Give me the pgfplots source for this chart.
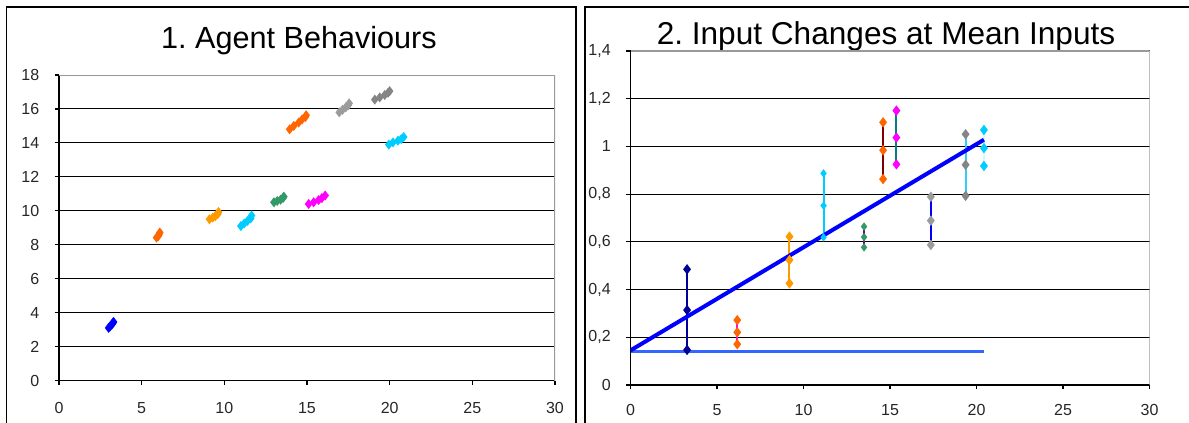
\documentclass[border=0pt]{standalone}
\usepackage{pgfplots}
\pgfplotsset{compat=1.18}
\usepackage{fontspec}
\setmainfont{Liberation Sans}
\frenchspacing
\definecolor{cblue}{HTML}{0000FF}
\definecolor{corange}{HTML}{FF6600}
\definecolor{clorange}{HTML}{FF9900}
\definecolor{ccyan}{HTML}{00CCFF}
\definecolor{cgreen}{HTML}{339966}
\definecolor{cmag}{HTML}{FF00FF}
\definecolor{clgray}{HTML}{9C9C9C}
\definecolor{cgray}{HTML}{858585}
\definecolor{cnavy}{HTML}{000099}
\definecolor{cdred}{HTML}{800000}
\definecolor{cteal}{HTML}{008080}
\definecolor{cpurple}{HTML}{800080}
\definecolor{cltcyan}{HTML}{CCFFFF}
\definecolor{csky}{HTML}{33CCFF}
\definecolor{chline}{HTML}{3366FF}
\definecolor{cborder}{HTML}{999999}
\pgfplotsset{
  excel/.style={
    scale only axis,
    axis x line*=bottom, axis y line*=left,
    axis line style={black, line width=0.8pt},
    tick align=outside, major tick length=2.2pt,
    tick style={black, line width=0.6pt},
    ymajorgrids, major grid style={black, line width=0.5pt},
    tick label style={font=\fontsize{8}{9.5}\selectfont, inner sep=0pt, text=black!85},
    /pgf/number format/assume math mode=true,
    xmin=0, xmax=30, xtick={0,5,...,30},
  },
  cl/.style={color=#1, line width=1pt, mark=diamond*, mark size=1.7pt, mark options={fill=#1, draw=#1}},
  eb/.style n args={2}{color=#1, line width=1pt, mark=diamond*, mark size=1.8pt, mark options={fill=#2, draw=#2}},
  ebs/.style n args={2}{color=#1, line width=1pt, mark=diamond*, mark size=1.3pt, mark options={fill=#2, draw=#2}},
}
\begin{document}
\begin{tikzpicture}
\useasboundingbox (0,0) rectangle (594.5pt,211.5pt);
% frames
\draw[black, line width=0.6pt] (3.25pt,-5pt) -- (3.25pt,208pt) -- (288pt,208pt) -- (288pt,-5pt);
\draw[black, line width=0.6pt] (292.5pt,-5pt) -- (292.5pt,208pt) -- (600pt,208pt);
% titles
\node[anchor=base, inner sep=0pt, font=\fontsize{15.3}{18}\selectfont] at (149.5pt,187pt) {1. Agent Behaviours};
\node[anchor=base, inner sep=0pt, font=\fontsize{15.8}{19}\selectfont] at (443pt,189pt) {2. Input Changes at Mean Inputs};

% left axis
\begin{axis}[excel, at={(29.5pt,21.25pt)}, anchor=south west,
  width=248pt, height=152.75pt,
  ymin=0, ymax=18, ytick={0,2,...,18},
  xticklabel style={anchor=center, yshift=-11.5pt},
  yticklabel style={anchor=east, xshift=-7.5pt},
]
\addplot[cl=cblue] coordinates {(3.0,3.1)(3.1,3.2)(3.2,3.3)(3.25,3.38)(3.3,3.45)};
\addplot[cl=corange] coordinates {(5.9,8.42)(6.0,8.5)(6.05,8.6)(6.1,8.72)};
\addplot[cl=clorange] coordinates {(9.1,9.5)(9.3,9.6)(9.45,9.68)(9.6,9.8)(9.65,9.93)};
\addplot[cl=ccyan] coordinates {(11.0,9.1)(11.2,9.25)(11.4,9.4)(11.6,9.55)(11.65,9.72)};
\addplot[cl=cgreen] coordinates {(13.0,10.5)(13.2,10.58)(13.4,10.65)(13.55,10.75)(13.6,10.83)};
\addplot[cl=cmag] coordinates {(15.1,10.4)(15.4,10.5)(15.7,10.63)(15.9,10.75)(16.1,10.9)};
\addplot[cl=corange] coordinates {(13.95,14.8)(14.2,15.0)(14.5,15.2)(14.7,15.38)(14.9,15.52)(14.95,15.63)};
\addplot[cl=clgray] coordinates {(16.95,15.8)(17.15,15.95)(17.35,16.1)(17.5,16.22)(17.55,16.33)};
\addplot[cl=cgray] coordinates {(19.1,16.55)(19.4,16.68)(19.7,16.82)(19.9,16.95)(20.0,17.05)};
\addplot[cl=ccyan] coordinates {(19.95,13.9)(20.2,14.03)(20.5,14.13)(20.7,14.22)(20.85,14.35)};
\draw[cborder, line width=0.7pt] (rel axis cs:0,1) -- (rel axis cs:1,1) -- (rel axis cs:1,0);
\end{axis}

% right axis
\begin{axis}[excel, at={(315.25pt,19pt)}, anchor=south west,
  width=259.5pt, height=167pt,
  ymin=0, ymax=1.4, ytick={0,0.2,0.4,0.6,0.8,1,1.2,1.4},
  yticklabels={0,{0,2},{0,4},{0,6},{0,8},1,{1,2},{1,4}},
  xticklabel style={anchor=center, yshift=-10.5pt},
  yticklabel style={anchor=east, xshift=-7.5pt},
]
\addplot[eb={cnavy}{cnavy}] coordinates {(3.27,0.485)(3.27,0.314)(3.27,0.147)};
\addplot[eb={cmag}{corange}] coordinates {(6.17,0.272)(6.17,0.221)(6.17,0.171)};
\addplot[eb={clorange}{clorange}] coordinates {(9.19,0.622)(9.19,0.524)(9.19,0.426)};
\addplot[ebs={ccyan}{ccyan}] coordinates {(11.16,0.887)(11.16,0.752)(11.16,0.619)};
\addplot[ebs={cpurple}{cgreen}] coordinates {(13.5,0.664)(13.5,0.620)(13.5,0.577)};
\addplot[eb={cdred}{corange}] coordinates {(14.6,1.101)(14.6,0.984)(14.6,0.863)};
\addplot[eb={cteal}{cmag}] coordinates {(15.37,1.150)(15.37,1.037)(15.37,0.925)};
\addplot[eb={cblue}{clgray}] coordinates {(17.36,0.789)(17.36,0.689)(17.36,0.587)};
\addplot[eb={csky}{cgray}] coordinates {(19.37,1.051)(19.37,0.923)(19.37,0.793)};
\addplot[eb={cltcyan}{ccyan}] coordinates {(20.43,1.069)(20.43,0.993)(20.43,0.918)};
\addplot[chline, line width=1.6pt] coordinates {(0,0.14)(20.43,0.14)};
\addplot[cblue, line width=2pt] coordinates {(0,0.145)(20.43,1.028)};
\draw[cborder, line width=0.7pt] (rel axis cs:0,1) -- (rel axis cs:1,1) -- (rel axis cs:1,0);
\end{axis}
\end{tikzpicture}
\end{document}
